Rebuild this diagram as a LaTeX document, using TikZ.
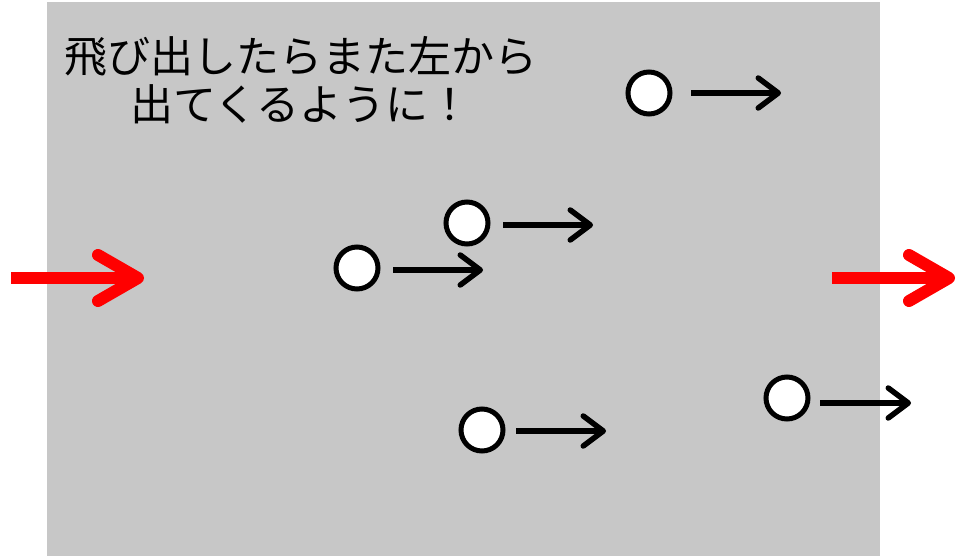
\documentclass[tikz,border=0pt]{standalone}
\usepackage{fontspec}
\newfontfamily\cjk{Noto Sans CJK JP}
\usetikzlibrary{arrows.meta}
\definecolor{bggray}{RGB}{199,199,199}
\begin{document}
\begin{tikzpicture}[x=1pt,y=-1pt,
  ball/.style={circle,draw=black,fill=white,line width=5pt,minimum size=42pt,inner sep=0pt},
  move/.style={line width=5.5pt,-{Straight Barb[length=20pt,width=30pt,line cap=round,line join=round]}},
  redarrow/.style={draw=red,line width=12pt,-{Straight Barb[length=40pt,width=46pt,line cap=round,line join=round]}},
  label/.style={font=\cjk\fontsize{43}{48}\selectfont,align=center,inner sep=0pt}]
\useasboundingbox (0,0) rectangle (956,556);
\fill[bggray] (47,2) rectangle (880,556);
\node[label] (txt) at (301,80) {飛び出したらまた左から\\出てくるように！};
% balls
\node[ball] (b1) at (649,93) {};
\node[ball] (b2) at (467,223) {};
\node[ball] (b3) at (357,268) {};
\node[ball] (b4) at (482,430) {};
\node[ball] (b5) at (787,398) {};
% arrow ends
\coordinate (s1) at (691,93);  \coordinate (e1) at (781,93);
\coordinate (s2) at (503,225); \coordinate (e2) at (593,225);
\coordinate (s3) at (393,270); \coordinate (e3) at (483,270);
\coordinate (s4) at (516,431); \coordinate (e4) at (606,431);
\coordinate (s5) at (820,403); \coordinate (e5) at (911,403);
\foreach \i in {1,...,5} \draw[move] (s\i) -- (e\i);
% red arrows
\coordinate (rl1) at (11,278); \coordinate (rl2) at (144,278);
\coordinate (rr1) at (832,278); \coordinate (rr2) at (955,278);
\draw[redarrow] (rl1) -- (rl2);
\draw[redarrow] (rr1) -- (rr2);
\end{tikzpicture}
\end{document}
